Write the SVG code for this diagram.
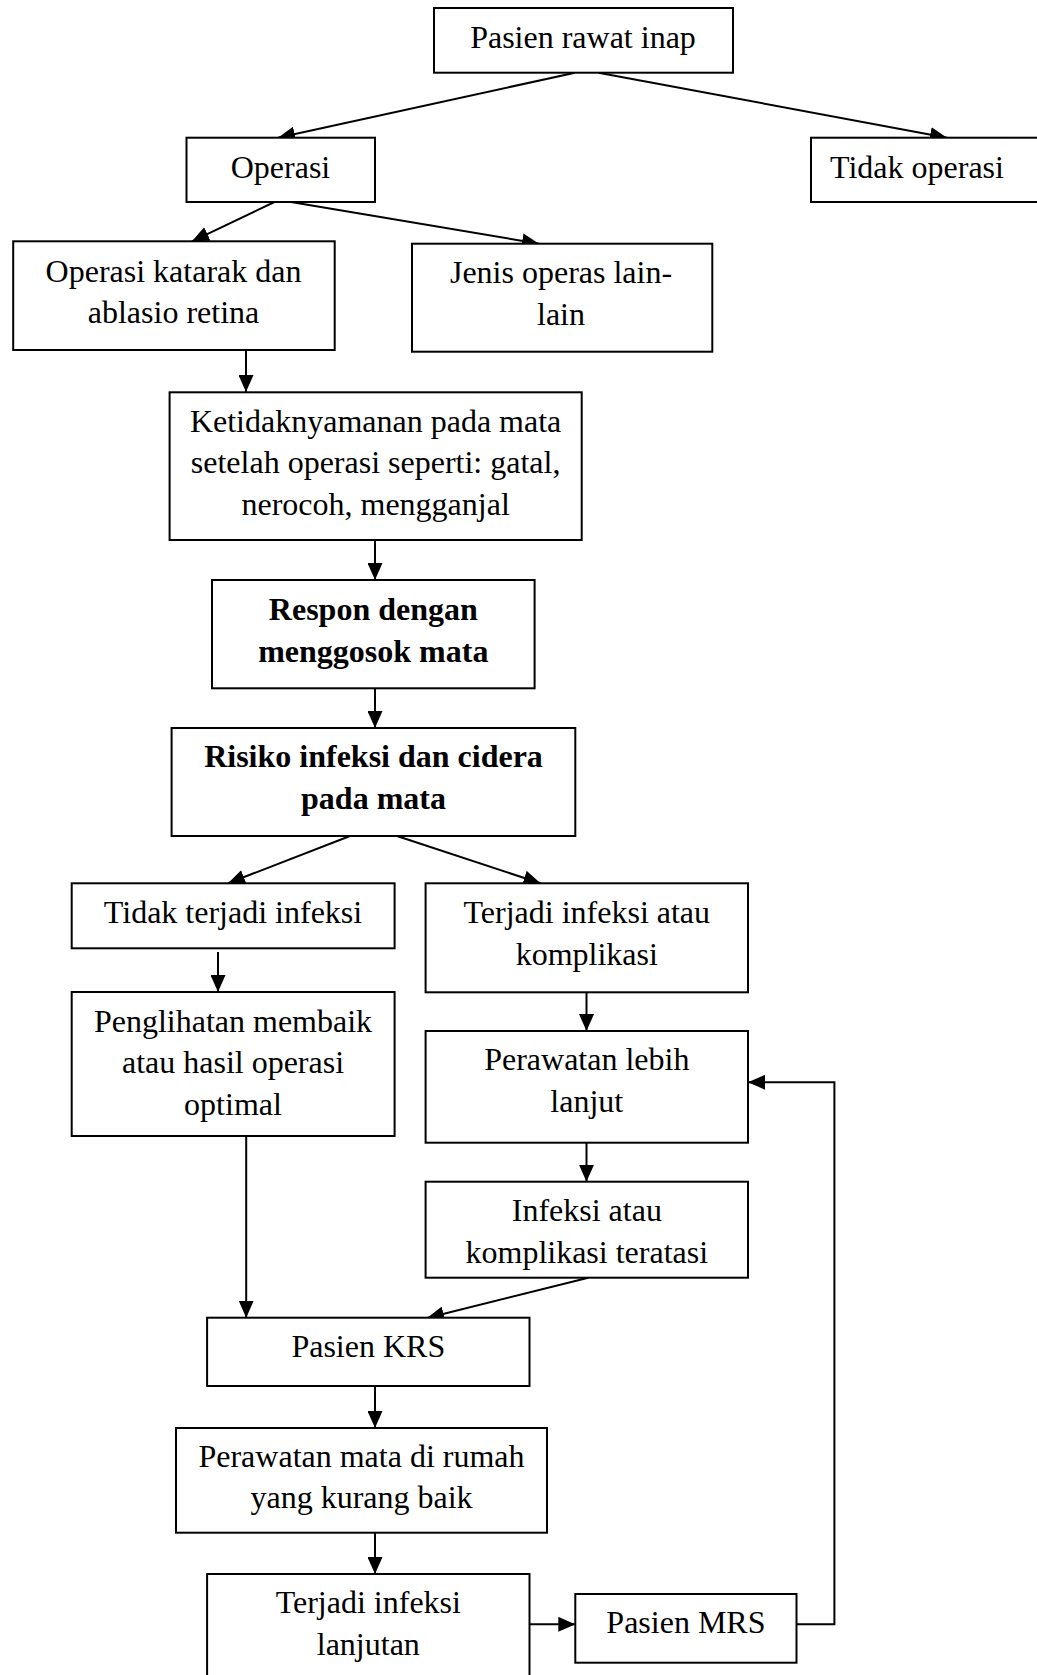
<svg xmlns="http://www.w3.org/2000/svg" width="1037" height="1675" viewBox="0 0 1037 1675">
<style>
.box{fill:#fff;stroke:#000;stroke-width:2}
.t{font-family:"Liberation Serif","Times New Roman",serif;font-size:32px;fill:#000;text-anchor:middle}
.b{font-weight:bold}
.c{fill:none;stroke:#000;stroke-width:2}
</style>
<defs>
<marker id="ah" markerUnits="userSpaceOnUse" markerWidth="17" markerHeight="15" refX="17" refY="7.5" orient="auto">
<path d="M0,0 L17,7.5 L0,15 z" fill="#000"/>
</marker>
</defs>
<rect width="1037" height="1675" fill="#fff"/>
<g id="connectors">
<line class="c" x1="575" y1="72.7" x2="278" y2="137.7" marker-end="url(#ah)"/>
<line class="c" x1="598.5" y1="72.7" x2="947" y2="137.7" marker-end="url(#ah)"/>
<line class="c" x1="274.5" y1="202" x2="192" y2="241.3" marker-end="url(#ah)"/>
<line class="c" x1="291" y1="202" x2="539" y2="243.7" marker-end="url(#ah)"/>
<line class="c" x1="246" y1="350" x2="246" y2="392" marker-end="url(#ah)"/>
<line class="c" x1="375" y1="540" x2="375" y2="580" marker-end="url(#ah)"/>
<line class="c" x1="375" y1="688.3" x2="375" y2="728" marker-end="url(#ah)"/>
<line class="c" x1="350" y1="836" x2="228" y2="883.3" marker-end="url(#ah)"/>
<line class="c" x1="397" y1="836" x2="540.5" y2="883.3" marker-end="url(#ah)"/>
<line class="c" x1="218" y1="952" x2="218" y2="992" marker-end="url(#ah)"/>
<line class="c" x1="586.5" y1="992.3" x2="586.5" y2="1031" marker-end="url(#ah)"/>
<line class="c" x1="586.5" y1="1142.7" x2="586.5" y2="1181.7" marker-end="url(#ah)"/>
<line class="c" x1="246.2" y1="1136" x2="246.2" y2="1317.7" marker-end="url(#ah)"/>
<line class="c" x1="588.3" y1="1277.7" x2="427" y2="1318" marker-end="url(#ah)"/>
<line class="c" x1="375" y1="1386" x2="375" y2="1428" marker-end="url(#ah)"/>
<line class="c" x1="375" y1="1532.7" x2="375" y2="1574" marker-end="url(#ah)"/>
<line class="c" x1="529.5" y1="1624.3" x2="575.3" y2="1624.3" marker-end="url(#ah)"/>
<polyline class="c" points="796.5,1624.3 834.4,1624.3 834.4,1082.3 748,1082.3" marker-end="url(#ah)"/>
</g>
<g id="n-pasien-rawat-inap">
<rect class="box" x="434" y="8" width="299" height="64.7"/>
<text class="t" x="583" y="48.3">Pasien rawat inap</text>
</g>
<g id="n-operasi">
<rect class="box" x="186.5" y="137.7" width="188.5" height="64.3"/>
<text class="t" x="280.5" y="178.3">Operasi</text>
</g>
<g id="n-tidak-operasi">
<rect class="box" x="811" y="137.7" width="230" height="64.3"/>
<text class="t" x="917" y="178.3">Tidak operasi</text>
</g>
<g id="n-katarak">
<rect class="box" x="13.2" y="241.3" width="321.5" height="108.7"/>
<text class="t" x="173.5" y="281.7">Operasi katarak dan</text>
<text class="t" x="173.5" y="323.3">ablasio retina</text>
</g>
<g id="n-jenis">
<rect class="box" x="412" y="243.7" width="300.3" height="108"/>
<text class="t" x="561" y="283.3">Jenis operas lain-</text>
<text class="t" x="561" y="325">lain</text>
</g>
<g id="n-ketidaknyamanan">
<rect class="box" x="169.6" y="392.3" width="412.1" height="147.7"/>
<text class="t" x="375.6" y="431.7">Ketidaknyamanan pada mata</text>
<text class="t" x="375.6" y="473.3">setelah operasi seperti: gatal,</text>
<text class="t" x="375.6" y="515">nerocoh, mengganjal</text>
</g>
<g id="n-respon">
<rect class="box" x="212" y="580" width="322.6" height="108.3"/>
<text class="t b" x="373.3" y="620">Respon dengan</text>
<text class="t b" x="373.3" y="661.7">menggosok mata</text>
</g>
<g id="n-risiko">
<rect class="box" x="171.6" y="728" width="403.7" height="108"/>
<text class="t b" x="373.5" y="767.3">Risiko infeksi dan cidera</text>
<text class="t b" x="373.5" y="808.5">pada mata</text>
</g>
<g id="n-tidak-terjadi">
<rect class="box" x="71.7" y="883.3" width="322.9" height="65"/>
<text class="t" x="233" y="923.3">Tidak terjadi infeksi</text>
</g>
<g id="n-terjadi-infeksi">
<rect class="box" x="425.6" y="883.3" width="322.4" height="109"/>
<text class="t" x="586.8" y="923.3">Terjadi infeksi atau</text>
<text class="t" x="586.8" y="965">komplikasi</text>
</g>
<g id="n-penglihatan">
<rect class="box" x="71.7" y="992" width="322.9" height="144"/>
<text class="t" x="233" y="1031.7">Penglihatan membaik</text>
<text class="t" x="233" y="1073.3">atau hasil operasi</text>
<text class="t" x="233" y="1115">optimal</text>
</g>
<g id="n-perawatan-lanjut">
<rect class="box" x="425.6" y="1031" width="322.4" height="111.7"/>
<text class="t" x="586.8" y="1070">Perawatan lebih</text>
<text class="t" x="586.8" y="1111.7">lanjut</text>
</g>
<g id="n-teratasi">
<rect class="box" x="425.6" y="1181.7" width="322.4" height="96"/>
<text class="t" x="586.8" y="1221">Infeksi atau</text>
<text class="t" x="586.8" y="1262.7">komplikasi teratasi</text>
</g>
<g id="n-krs">
<rect class="box" x="207.1" y="1317.7" width="322.4" height="68.3"/>
<text class="t" x="368.3" y="1357.3">Pasien KRS</text>
</g>
<g id="n-perawatan-rumah">
<rect class="box" x="176" y="1428" width="371" height="104.7"/>
<text class="t" x="361.5" y="1466.7">Perawatan mata di rumah</text>
<text class="t" x="361.5" y="1508.3">yang kurang baik</text>
</g>
<g id="n-infeksi-lanjutan">
<rect class="box" x="207.1" y="1574" width="322.4" height="110"/>
<text class="t" x="368.3" y="1612.7">Terjadi infeksi</text>
<text class="t" x="368.3" y="1655">lanjutan</text>
</g>
<g id="n-mrs">
<rect class="box" x="575.3" y="1594" width="221.2" height="68.7"/>
<text class="t" x="685.9" y="1632.7">Pasien MRS</text>
</g>
</svg>
